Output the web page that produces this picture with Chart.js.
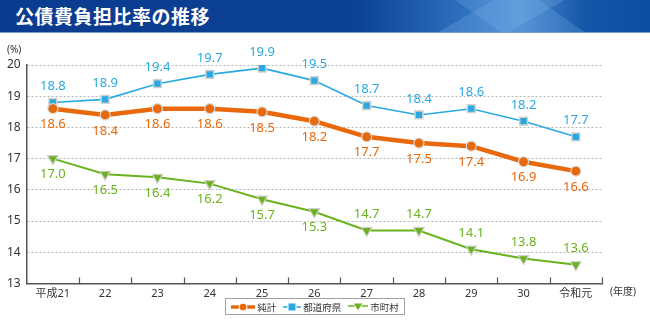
<!DOCTYPE html>
<html>
<head>
<meta charset="UTF-8">
<title>公債費負担比率の推移</title>
<script src="https://cdn.jsdelivr.net/npm/chart.js@4.4.1/dist/chart.umd.min.js"></script>
<style>
    body { margin: 0; width: 650px; height: 324px; background: #fff; overflow: hidden; position: relative;
           font-family: "Noto Sans CJK JP", "Noto Sans", sans-serif; }
    #titlebar { position: absolute; left: 0; top: 0; width: 650px; height: 32px; z-index: 2;
        border-bottom: 1px solid #7d9dd2;
        background:
            linear-gradient(150deg, transparent 0 70%, rgba(140,190,240,.22) 70% 80%, transparent 80%),
            linear-gradient(35deg, transparent 0 72%, rgba(120,175,230,.25) 72% 84%, transparent 84%),
            linear-gradient(90deg, #0a3b8e 0%, #0b4296 55%, #2f72c0 72%, #4a8bd0 80%, #1456a8 90%, #0b4ea3 100%); }
    #titlebar h1 { margin: 0; padding-left: 15px; line-height: 32px; font-size: 19px; font-weight: bold;
        color: #fff; letter-spacing: 0.5px; }
    #wrap { position: absolute; left: 0; top: 0; width: 650px; height: 324px; }
    #legend { position: absolute; left: 225px; top: 298px; width: 178px; height: 15px; z-index: 2;
        border: 1px solid #a0a0a0; display: flex; align-items: center; justify-content: center;
        font-size: 9.5px; color: #333; gap: 7px; }
    #legend span { display: flex; align-items: center; gap: 2px; }
</style>
</head>
<body>
<div id="titlebar"><h1>公債費負担比率の推移</h1></div>
<div id="wrap"><canvas id="ratioChart" width="650" height="324"></canvas></div>
<div id="legend">
    <span><svg width="24" height="10"><line x1="0" y1="5" x2="24" y2="5" stroke="#e8690b" stroke-width="3.5"/><circle cx="12" cy="5" r="4" fill="#e8690b" stroke="#fff" stroke-width="1"/></svg>純計</span>
    <span><svg width="18" height="10"><line x1="0" y1="5" x2="18" y2="5" stroke="#29a9e1" stroke-width="1.5"/><rect x="5" y="1" width="8" height="8" fill="#29a9e1" stroke="#fff" stroke-width="1"/></svg>都道府県</span>
    <span><svg width="20" height="10"><line x1="0" y1="4" x2="20" y2="4" stroke="#6ab31e" stroke-width="1.5"/><polygon points="5,1 15,1 10,9" fill="#6ab31e" stroke="#fff" stroke-width="1"/></svg>市町村</span>
</div>

<script>
    // 年度
    const years = ['平成21', '22', '23', '24', '25', '26', '27', '28', '29', '30', '令和元'];
    // 公債費負担比率 (%)
    const junkei = [18.6, 18.4, 18.6, 18.6, 18.5, 18.2, 17.7, 17.5, 17.4, 16.9, 16.6];
    const todofuken = [18.8, 18.9, 19.4, 19.7, 19.9, 19.5, 18.7, 18.4, 18.6, 18.2, 17.7];
    const shichoson = [17.0, 16.5, 16.4, 16.2, 15.7, 15.3, 14.7, 14.7, 14.1, 13.8, 13.6];
    const yMin = 13, yMax = 20;

    const ORANGE = '#e8690b', BLUE = '#29a9e1', GREEN = '#6ab31e';
    const baseFont = '"Noto Sans", "Noto Sans CJK JP", sans-serif';

    // value labels above / below each point
    const valueLabels = {
        id: 'valueLabels',
        afterDatasetsDraw(chart) {
            const ctx = chart.ctx;
            ctx.save();
            ctx.font = '13px ' + baseFont;
            ctx.textAlign = 'center';
            ctx.textBaseline = 'middle';
            chart.data.datasets.forEach((ds, di) => {
                const meta = chart.getDatasetMeta(di);
                ctx.fillStyle = ds.labelColor;
                meta.data.forEach((pt, i) => {
                    const dy = ds.labelSide(i) === 'above' ? -16 : 16;
                    ctx.fillText(ds.data[i].toFixed(1), pt.x, pt.y + dy);
                });
            });
            ctx.restore();
        }
    };

    // small upward ticks on the x axis between years, and the unit captions
    const axisExtras = {
        id: 'axisExtras',
        afterDraw(chart) {
            const {ctx, chartArea} = chart;
            const x = chart.scales.x;
            const step = x.getPixelForValue(1) - x.getPixelForValue(0);
            ctx.save();
            ctx.strokeStyle = '#555';
            ctx.lineWidth = 1.2;
            ctx.beginPath();
            for (let i = 0; i < years.length; i++) {
                const bx = Math.round(x.getPixelForValue(i) + step / 2) + 0.5;
                ctx.moveTo(bx, chartArea.bottom);
                ctx.lineTo(bx, chartArea.bottom - 6);
            }
            ctx.stroke();
            ctx.fillStyle = '#333';
            ctx.font = '10px ' + baseFont;
            ctx.textBaseline = 'middle';
            ctx.textAlign = 'left';
            ctx.fillText('(%)', 7, 50);
            ctx.fillText('(年度)', 610, 292);
            ctx.restore();
        }
    };

    const ctx = document.getElementById('ratioChart').getContext('2d');
    new Chart(ctx, {
        type: 'line',
        data: {
            labels: years,
            datasets: [{
                label: '純計',
                data: junkei,
                borderColor: ORANGE,
                backgroundColor: ORANGE,
                borderWidth: 4.5,
                pointStyle: 'circle',
                pointRadius: 5,
                pointBorderColor: '#d8d8d8',
                pointBorderWidth: 1.2,
                labelColor: ORANGE,
                labelSide: () => 'below'
            }, {
                label: '都道府県',
                data: todofuken,
                borderColor: BLUE,
                backgroundColor: BLUE,
                borderWidth: 1.6,
                pointStyle: 'rect',
                pointRadius: 5.5,
                pointBorderColor: '#d0d0d0',
                pointBorderWidth: 1.5,
                labelColor: BLUE,
                labelSide: () => 'above'
            }, {
                label: '市町村',
                data: shichoson,
                borderColor: GREEN,
                backgroundColor: GREEN,
                borderWidth: 2,
                pointStyle: 'triangle',
                pointRotation: 180,
                pointRadius: 6,
                pointBorderColor: '#d0d0d0',
                pointBorderWidth: 1.2,
                labelColor: GREEN,
                labelSide: i => (i >= 6 ? 'above' : 'below')
            }]
        },
        options: {
            responsive: false,
            animation: false,
            layout: { padding: { top: 65, right: 48, bottom: 0, left: 0 } },
            plugins: {
                legend: { display: false },
                tooltip: { enabled: false }
            },
            scales: {
                x: {
                    offset: true,
                    grid: { display: false, drawTicks: false },
                    border: { display: true, color: '#555', width: 1.5 },
                    ticks: { color: '#333', padding: 4, font: { size: 11, family: baseFont } },
                    afterFit(scale) { scale.height = 40.5; }
                },
                y: {
                    min: yMin,
                    max: yMax,
                    ticks: { stepSize: 1, color: '#333', padding: 6, font: { size: 12, family: baseFont } },
                    grid: {
                        drawTicks: false,
                        lineWidth: 1,
                        color: c => (c.tick && c.tick.value === yMin ? 'rgba(0,0,0,0)' : '#b5b5b5')
                    },
                    border: { display: true, color: '#555', width: 1.5, dash: [2, 2] },
                    afterFit(scale) { scale.width = 26.7; }
                }
            }
        },
        plugins: [valueLabels, axisExtras]
    });
</script>
</body>
</html>
